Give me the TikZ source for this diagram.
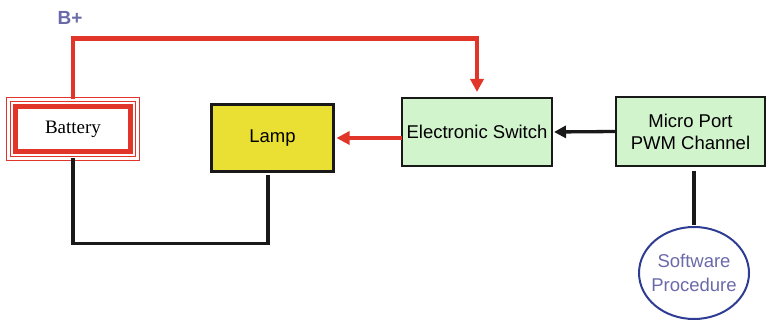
\documentclass[tikz,border=0pt]{standalone}
\usepackage{fontspec}
\setmainfont{Liberation Sans}
\newfontfamily\battfont{Liberation Serif}
\usetikzlibrary{arrows.meta,shapes.geometric,fit,calc}
\definecolor{wirered}{HTML}{E2352A}
\definecolor{lampyellow}{HTML}{EAE033}
\definecolor{switchgreen}{HTML}{D2F4CD}
\definecolor{softblue}{HTML}{2E3D93}
\definecolor{labelblue}{HTML}{6A6AAA}

\begin{document}
\begin{tikzpicture}[x=1pt, y=-1pt,
  box/.style={draw=black!90, line width=2pt, minimum width=150pt, minimum height=68pt,
              align=center, fill=switchgreen, inner sep=0pt, outer sep=0pt},
  redwire/.style={draw=wirered, line width=4.3pt},
  blackwire/.style={draw=black!90, line width=3.3pt},
  redarr/.style={redwire, -{Triangle[length=13pt,width=13pt]}},
  blackarr/.style={blackwire, -{Triangle[length=12pt,width=12pt]}},
  font=\fontsize{18.5}{22}\selectfont
]
\useasboundingbox (0,0) rectangle (767,320);

% battery with its framed border
\node[draw=wirered, line width=5pt, minimum width=115pt, minimum height=45pt,
      inner sep=0pt, outer sep=0pt, font=\battfont\fontsize{19}{22}\selectfont]
  (battery) at (73,129) {Battery};
\node[fit=(battery), inner sep=7pt, outer sep=0pt, draw=wirered, line width=1.5pt,
      double=white, double distance=2.4pt] (battframe) {};
\node[font=\bfseries\fontsize{19}{22}\selectfont, text=labelblue] (bplus) at (70,18) {B+};

\node[box, fill=lampyellow, line width=3pt, minimum width=122pt, minimum height=67pt]
  (lamp) at (272.5,138) {Lamp};
\node[box] (switch) at (477,132) {Electronic Switch};
\node[box, minimum width=149pt, minimum height=69pt] (pwm) at (690.5,131.5) {Micro Port\\PWM Channel};

\node[ellipse, draw=softblue, line width=2pt, minimum width=110pt, minimum height=92pt,
      inner sep=0pt, outer sep=0pt] (soft) at (694,273) {};
\node[text=labelblue, align=center, font=\fontsize{18.5}{24}\selectfont] (softtext) at (soft.center) {Software\\Procedure};

% wires
\draw[redarr, shorten >=6pt] (battframe.north) -- ++(0,-61) -| (switch.north);
\draw[redarr, shorten >=3pt] (switch.west |- lamp.east) -- (lamp.east);
\draw[blackarr, shorten >=2pt] (pwm.west) -- (switch.east);
\draw[blackwire, shorten >=4pt] (battframe.south) -- ++(0,85) -| ([xshift=-4.5pt]lamp.south);
\draw[blackwire, shorten <=5pt, shorten >=2pt] (soft.north |- pwm.south) -- (soft.north);

\end{tikzpicture}
\end{document}
